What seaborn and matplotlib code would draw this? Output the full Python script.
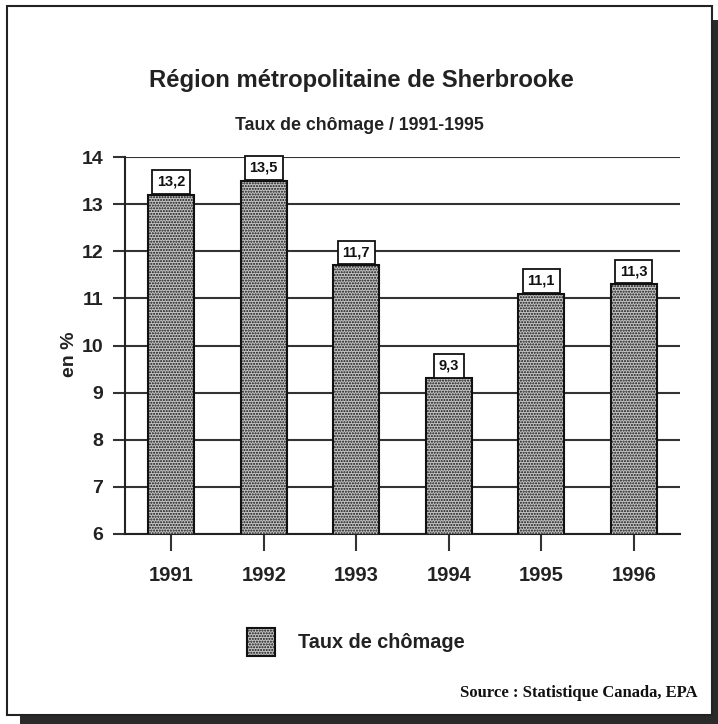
import matplotlib
matplotlib.use("Agg")
import matplotlib.pyplot as plt
import matplotlib.patches as mpatches
import seaborn as sns
import pandas as pd

years = ["1991", "1992", "1993", "1994", "1995", "1996"]
taux = [13.2, 13.5, 11.7, 9.3, 11.1, 11.3]
labels = ["13,2", "13,5", "11,7", "9,3", "11,1", "11,3"]
yticks = [6, 7, 8, 9, 10, 11, 12, 13, 14]

title = "Région métropolitaine de Sherbrooke"
subtitle = "Taux de chômage / 1991-1995"
ylabel = "en %"
legend_label = "Taux de chômage"
source = "Source : Statistique Canada, EPA"

sns.set_theme(style="white")
SANS = ["Liberation Sans", "DejaVu Sans"]
plt.rcParams["font.family"] = SANS
plt.rcParams["hatch.linewidth"] = 1.0
plt.rcParams["hatch.color"] = "#222222"

W, H = 718, 724
fig = plt.figure(figsize=(W / 100, H / 100), dpi=100)
fig.patch.set_facecolor("white")

def px_rect(x0, y0, x1, y1, **kw):
    return mpatches.Rectangle((x0 / W, 1 - y1 / H), (x1 - x0) / W, (y1 - y0) / H,
                              transform=fig.transFigure, **kw)

fig.patches.append(px_rect(20, 20, 718, 724, facecolor="#2a2a2a", edgecolor="none", zorder=0))
fig.patches.append(px_rect(7, 6, 712, 715, facecolor="white", edgecolor="#222222", lw=1.5, zorder=1))

ax = fig.add_axes([125 / W, 1 - 534 / H, (680 - 125) / W, (534 - 157) / H])
ax.set_facecolor("none")
ax.set_zorder(2)

BAR_FC = "#c4c4c4"
df = pd.DataFrame({"annee": years, "taux": taux})
sns.barplot(data=df, x="annee", y="taux", ax=ax, width=0.5, color=BAR_FC,
            edgecolor="#111111", linewidth=1.5, zorder=3)
for p in ax.patches:
    p.set_hatch("......")
    p.set_facecolor(BAR_FC)

ax.set_ylim(6, 14)
ax.set_xlim(-0.5, 5.5)
ax.set_yticks(yticks)
ax.set_yticklabels([str(t) for t in yticks], fontsize=14, fontweight="bold", color="#222222")
ax.set_xticklabels(years, fontsize=14.5, fontweight="bold", color="#222222")
ax.set_xlabel("")
ax.set_ylabel("")

ax.yaxis.grid(True, color="#333333", lw=1.5, zorder=0)
ax.set_axisbelow(True)
for s in ["top", "right"]:
    ax.spines[s].set_visible(False)
for s in ["left", "bottom"]:
    ax.spines[s].set_color("#222222")
    ax.spines[s].set_linewidth(1.5)
ax.tick_params(axis="y", which="major", left=True, length=8.6, width=1.5, color="#333333", pad=7)
ax.tick_params(axis="x", which="major", bottom=True, length=12, width=1.5, color="#333333", pad=11)

for i, (v, lab) in enumerate(zip(taux, labels)):
    ax.annotate(lab, xy=(i, v), xytext=(0, 9.2), textcoords="offset points",
                ha="center", va="center", fontsize=10.5, fontweight="bold", color="#111111",
                zorder=5,
                bbox=dict(boxstyle="square,pad=0.33", fc="white", ec="#111111", lw=1.3))

fig.text(361 / W, 1 - 80 / H, title, ha="center", va="center", fontsize=17.2,
         fontweight="bold", color="#222222", zorder=3)
fig.text(359 / W, 1 - 125 / H, subtitle, ha="center", va="center", fontsize=12.8,
         fontweight="bold", color="#222222", zorder=3)
fig.text(70 / W, 1 - 354 / H, ylabel, ha="center", va="center", rotation=90, fontsize=14,
         fontweight="bold", color="#222222", zorder=3)
fig.text(697 / W, 1 - 693 / H, source, ha="right", va="center", fontsize=12,
         fontweight="bold", family=["Liberation Serif", "DejaVu Serif"], color="#111111", zorder=3)

handle = mpatches.Patch(facecolor=BAR_FC, edgecolor="#111111", hatch="......", lw=1.5)
leg = fig.legend([handle], [legend_label], loc="center left",
                 bbox_to_anchor=(247 / W, 1 - 642 / H), frameon=False,
                 prop={"family": SANS, "weight": "bold", "size": 14.3},
                 handlelength=1.4, handleheight=1.75, handletextpad=1.15,
                 borderpad=0, borderaxespad=0)
leg.set_zorder(3)
for t in leg.get_texts():
    t.set_color("#222222")

fig.savefig("out.png", dpi=100, facecolor="white")
